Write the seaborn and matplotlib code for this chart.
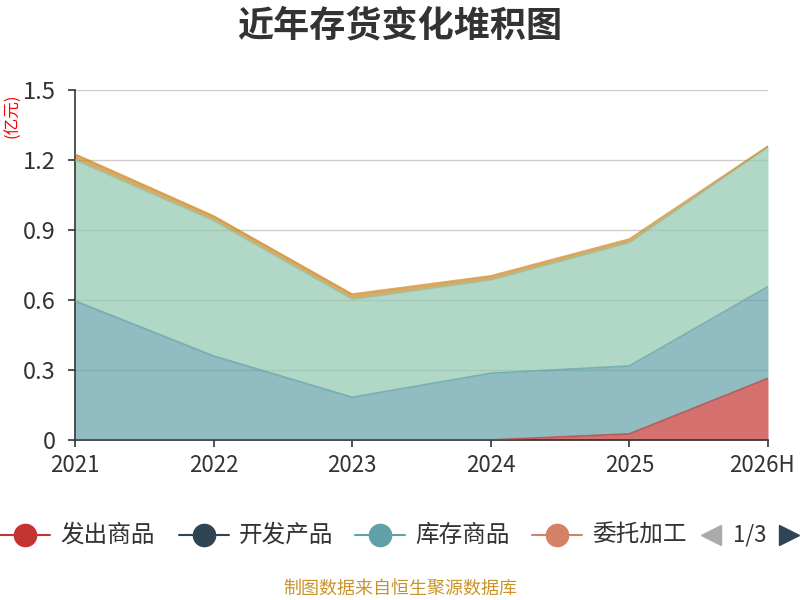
import matplotlib
matplotlib.use("Agg")
import matplotlib.pyplot as plt
import matplotlib.transforms as mtransforms
from matplotlib.lines import Line2D
import seaborn as sns
import pandas as pd
import numpy as np

years = ["2021", "2022", "2023", "2024", "2025", "2026H"]
series_names = ["发出商品", "开发产品", "库存商品", "委托加工", "原材料", "在产品", "周转材料"]
fachu = [0, 0, 0, 0, 0.026, 0.264]
kaifa = [0, 0, 0, 0, 0, 0]
kucun = [0.596, 0.36, 0.183, 0.286, 0.291, 0.393]
weituo = [0, 0, 0, 0, 0, 0]
yuancailiao = [0.604, 0.58, 0.42, 0.40, 0.529, 0.60]
zaichanpin = [0, 0, 0, 0, 0, 0]
zhouzhuan = [0.025, 0.02, 0.022, 0.017, 0.015, 0.002]
yticks = [0, 0.3, 0.6, 0.9, 1.2, 1.5]
ytick_labels = ["0", "0.3", "0.6", "0.9", "1.2", "1.5"]

colors = ["#c23531", "#2f4554", "#61a0a8", "#d48265", "#91c7ae", "#749f83", "#ca8622"]

sns.set_theme(style="white")
plt.rcParams["font.family"] = ["Noto Sans CJK SC", "DejaVu Sans"]

values = [fachu, kaifa, kucun, weituo, yuancailiao, zaichanpin, zhouzhuan]
x = np.arange(len(years))
tops = np.cumsum(np.array(values, dtype=float), axis=0)
bottoms = np.vstack([np.zeros(len(years)), tops[:-1]])

# only series with data get a border line (zero series would paint over others)
rows = []
line_names, line_colors = [], []
for name, col, vals, top in zip(series_names, colors, values, tops):
    if not any(vals):
        continue
    line_names.append(name)
    line_colors.append(col)
    for xi, v in zip(x, top):
        rows.append({"x": xi, "value": v, "series": name})
df = pd.DataFrame(rows)

fig = plt.figure(figsize=(8, 6), dpi=100)
ax = fig.add_axes([75 / 800, 160 / 600, 693 / 800, 350 / 600])

for i, name in enumerate(series_names):
    ax.fill_between(x, bottoms[i], tops[i], color=colors[i], alpha=0.7, lw=0, zorder=2)

sns.lineplot(data=df, x="x", y="value", hue="series", hue_order=line_names,
             palette=line_colors, legend=False, lw=1.3, alpha=0.7, ax=ax, zorder=3)

ax.set_xlim(0, len(years) - 1)
ax.set_ylim(0, 1.5)
ax.set_yticks(yticks)
ax.set_yticklabels(ytick_labels)
ax.set_xticks(x)
ax.set_xticklabels(years)
ax.set_xlabel("")
ax.set_ylabel("")
ax.yaxis.grid(True, color="#cccccc", lw=1)
ax.set_axisbelow(True)
ax.tick_params(axis="both", labelsize=17, colors="#333333", length=5, width=1.2,
               direction="out", bottom=True, left=True)
ax.tick_params(axis="x", labelsize=16, pad=5)
ax.tick_params(axis="y", pad=9)
# keep the last category label inside the canvas
last = ax.get_xticklabels()[-1]
last.set_transform(last.get_transform() +
                   mtransforms.ScaledTranslation(-6 / 100, 0, fig.dpi_scale_trans))
for s in ["top", "right"]:
    ax.spines[s].set_visible(False)
for s in ["left", "bottom"]:
    ax.spines[s].set_color("#333333")
    ax.spines[s].set_linewidth(1.2)

fig.text(0.5, 1 - 26 / 600, "近年存货变化堆积图", ha="center", va="center",
         fontsize=26, fontweight="bold", color="#333333")
fig.text(13 / 800, 1 - 116 / 600, "(亿元)", ha="center", va="center",
         rotation=90, fontsize=12, color="red")

# legend (page 1 of 3)
ly = 1 - 535 / 600
item_x = [0, 179, 355, 532]
for i in range(4):
    x0 = item_x[i] / 800
    fig.add_artist(Line2D([x0, x0 + 50 / 800], [ly, ly], color=colors[i], lw=1.5,
                          transform=fig.transFigure))
    fig.add_artist(Line2D([x0 + 25 / 800], [ly], color=colors[i], marker="o",
                          markersize=16, transform=fig.transFigure))
    fig.text(x0 + 60 / 800, ly, series_names[i], ha="left", va="center",
             fontsize=17, color="#333333")
fig.add_artist(Line2D([711 / 800], [ly], marker="<", color="#aaaaaa", markersize=14,
                      transform=fig.transFigure))
fig.text(750 / 800, ly, "1/3", ha="center", va="center", fontsize=16, color="#333333")
fig.add_artist(Line2D([789 / 800], [ly], marker=">", color="#2f4554", markersize=14,
                      transform=fig.transFigure))

fig.text(0.5, 1 - 589 / 600, "制图数据来自恒生聚源数据库", ha="center", va="center",
         fontsize=13, color="#c9952b")

fig.savefig("out.png", dpi=100)
